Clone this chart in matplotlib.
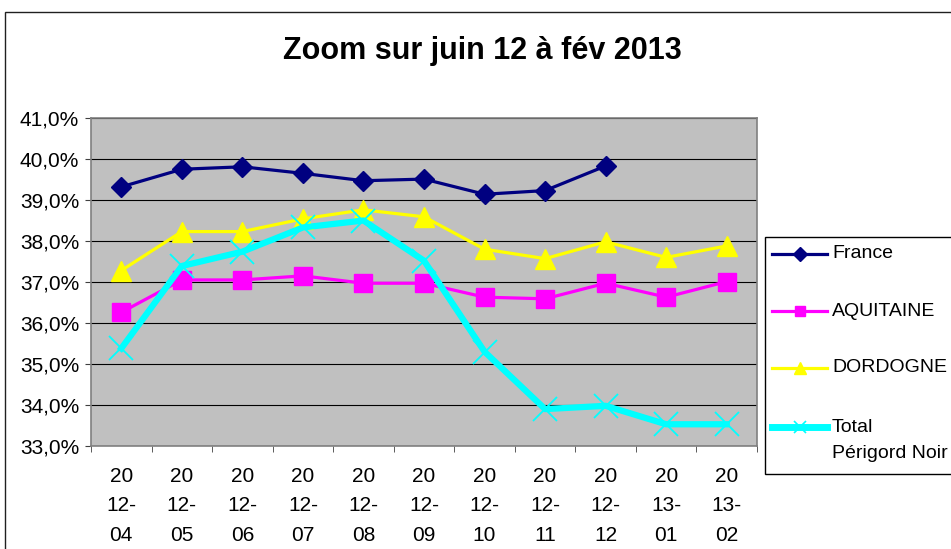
import numpy as np
import matplotlib
matplotlib.use("Agg")
import matplotlib.pyplot as plt
from matplotlib.lines import Line2D
from matplotlib.patches import Rectangle
from matplotlib.ticker import FuncFormatter, MultipleLocator

plt.rcParams["font.family"] = ["Liberation Sans", "DejaVu Sans"]

# data (percent)
months = ["2012-04", "2012-05", "2012-06", "2012-07", "2012-08", "2012-09",
          "2012-10", "2012-11", "2012-12", "2013-01", "2013-02"]
france = [39.32, 39.75, 39.81, 39.65, 39.47, 39.51, 39.14, 39.23, 39.83, np.nan, np.nan]
aquitaine = [36.26, 37.05, 37.05, 37.15, 36.97, 36.97, 36.63, 36.59, 36.97, 36.63, 37.01]
dordogne = [37.28, 38.23, 38.23, 38.54, 38.76, 38.59, 37.80, 37.57, 37.98, 37.60, 37.88]
perigord = [35.38, 37.39, 37.74, 38.33, 38.50, 37.52, 35.30, 33.90, 33.98, 33.53, 33.53]
series_names = ["France", "AQUITAINE", "DORDOGNE", "Total\nPérigord Noir"]

tick_labels = ["%s\n%s-\n%s" % (m[:2], m[2:4], m[5:]) for m in months]

W, H = 951, 549
fig = plt.figure(figsize=(W/100, H/100), dpi=100)
ax = fig.add_axes([91/W, 1 - 446/H, (757 - 91)/W, (446 - 118)/H])
ax.set_facecolor("#C0C0C0")

x = np.arange(len(months))
styles = [
    dict(color="#000080", lw=2.3, marker="D", ms=10.5, mec="#000080"),
    dict(color="#FF00FF", lw=2.3, marker="s", ms=13.5, mec="#FF00FF"),
    dict(color="#FFFF00", lw=2.3, marker="^", ms=14, mec="#FFFF00"),
    dict(color="#00FFFF", lw=4.5, marker="x", ms=17, mew=1.3, mec="#00FFFF"),
]
legend_ms = [7, 7, 8, 9]
for k, (y, st) in enumerate(zip([france, aquitaine, dordogne, perigord], styles)):
    ax.plot(x, y, zorder=3 + (k == 3), **st)

ax.set_xlim(-0.5, len(months) - 0.5)
ax.set_ylim(33, 41)
ax.yaxis.set_major_locator(MultipleLocator(1))
ax.yaxis.set_major_formatter(FuncFormatter(lambda v, p: ("%.1f%%" % v).replace(".", ",")))
ax.grid(axis="y", color="black", lw=0.8, zorder=1)
ax.set_axisbelow(True)

ax.set_xticks(x)
ax.set_xticklabels(tick_labels, linespacing=1.7)
ax.set_xticks(np.arange(-0.5, len(months)), minor=True)
ax.tick_params(axis="x", which="major", length=0, pad=15, labelsize=15)
ax.tick_params(axis="x", which="minor", length=4.5, color="#404040", direction="out")
ax.tick_params(axis="y", length=4.5, color="#404040", direction="out", pad=4, labelsize=15)
for sp in ax.spines.values():
    sp.set_color("#808080")
    sp.set_linewidth(1.2)

fig.text(482.5/W, 1 - 51/H, "Zoom sur juin 12 à fév 2013", ha="center", va="center",
         fontsize=22, fontweight="bold")

# legend box (Excel style, runs off the right edge)
fig.patches.append(Rectangle((765/W, 1 - 474/H), 1.0, (474 - 237)/H, transform=fig.transFigure,
                             facecolor="white", edgecolor="black", lw=1.0, zorder=5))
row_y = [254, 311, 368, 427]
for name, st, ms, yy in zip(series_names, styles, legend_ms, row_y):
    st = dict(st, ms=ms)
    if st["marker"] == "x":
        st["mew"] = 1.2
        st["lw"] = 5
    fig.lines.append(Line2D([772/W, 799.5/W, 827/W], [1 - yy/H] * 3, transform=fig.transFigure,
                            markevery=[1], zorder=6, **st))
    lines = name.split("\n")
    for j, s in enumerate(lines):
        fig.text(832/W, 1 - (yy + 26 * j)/H, s, ha="left", va="center", fontsize=14, zorder=6)

# outer chart frame
fig.patches.append(Rectangle((5/W, -0.1), 1.2, 1.1 - 12/H, transform=fig.transFigure,
                             fill=False, edgecolor="#202020", lw=1.0))

fig.savefig("out.png", dpi=100)
